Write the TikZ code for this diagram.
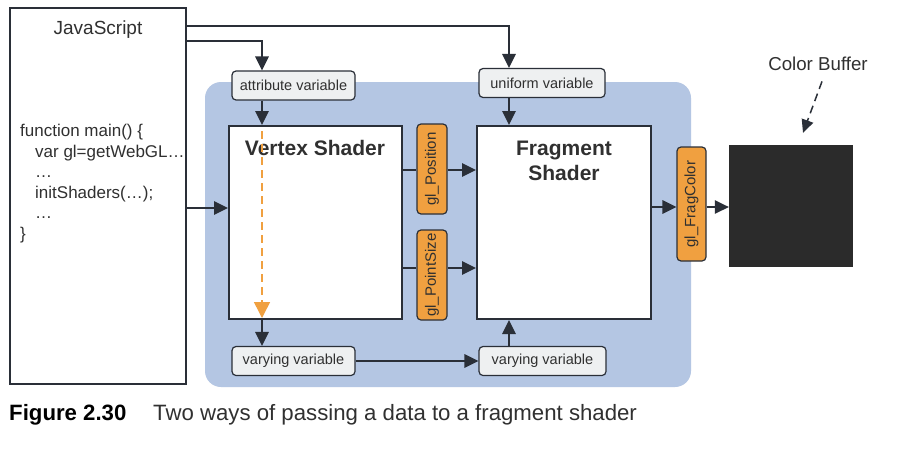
\documentclass[tikz,border=0pt]{standalone}
\usepackage{fontspec}
\setmainfont{Liberation Sans}
\usepackage{graphicx}
\usetikzlibrary{arrows.meta,calc}
\definecolor{inkc}{HTML}{2A2F38}
\definecolor{textc}{HTML}{303030}
\definecolor{panelblue}{HTML}{B4C6E3}
\definecolor{labelgray}{HTML}{EEF0F1}
\definecolor{glorange}{HTML}{F0A040}
\definecolor{bufblack}{HTML}{2B2B2B}
\tikzset{
  arr/.style={draw=inkc, line width=1.5pt, -{Triangle[length=14pt,width=13.5pt]}},
  varbox/.style={draw=inkc, line width=1.2pt, fill=labelgray, rounded corners=4pt,
    minimum height=29pt, inner sep=0pt, text=textc, font=\fontsize{14.5}{17}\selectfont},
  shaderbox/.style={draw=inkc, line width=2pt, fill=white, minimum width=173pt,
    minimum height=193pt, inner sep=0pt},
  outbox/.style={draw=inkc, line width=1.2pt, fill=glorange, rounded corners=4pt,
    minimum width=30pt, inner sep=0pt, text=textc, font=\fontsize{15}{18}\selectfont},
  title/.style={text=textc, font=\fontsize{21}{25}\selectfont\bfseries, align=center},
}

\begin{document}
\begin{tikzpicture}[x=1pt,y=-1pt]
  \useasboundingbox[fill=white] (0,0) rectangle (904,450);
  % GPU panel
  \fill[panelblue, rounded corners=16pt] (205,82) rectangle (691,387);
  % columns and rows of the connectors
  \coordinate (colV) at (262,0);
  \coordinate (colF) at (509,0);
  \coordinate (rowP) at (0,170);
  \coordinate (rowC) at (0,207);
  \coordinate (rowS) at (0,268);

  \node[draw=inkc, line width=2.5pt, minimum width=176pt, minimum height=376pt] (js) at (98,196) {};
  \node[text=textc, font=\fontsize{19}{22}\selectfont] (jsT) at (98,30) {JavaScript};
  \node[anchor=north west, align=left, inner sep=0pt, text=textc,
        font=\fontsize{17}{20.5}\selectfont] (code) at (20,124)
        {function main() \{\\ \hspace*{15pt}var gl=getWebGL\ldots\\ \hspace*{15pt}\ldots\\
         \hspace*{15pt}initShaders(\ldots);\\ \hspace*{15pt}\ldots\\ \}};
  \coordinate (jsU) at (186,26);
  \coordinate (jsA) at (186,41);
  \coordinate (jsC) at (186,208);

  \node[varbox, minimum width=123pt] (attr) at (293.5,85.5) {attribute variable};
  \node[varbox, minimum width=126pt] (uni) at (542,83) {uniform variable};
  \node[varbox, minimum width=123pt] (vary1) at (293.5,361) {varying variable};
  \node[varbox, minimum width=127pt] (vary2) at (542.5,361) {varying variable};

  \node[shaderbox] (vert) at (315.5,222.5) {};
  \node[shaderbox, minimum width=174pt] (frag) at (564,222.5) {};
  \node[title] (vertT) at (315,148) {Vertex Shader};
  \node[title] (fragT) at (564,161) {Fragment\\Shader};

  \node[outbox, minimum height=90pt] (pos) at (432,169) {\rotatebox{90}{gl\_Position}};
  \node[outbox, minimum height=90pt] (psize) at (432,275) {\rotatebox{90}{gl\_PointSize}};
  \node[outbox, minimum height=114pt, minimum width=29pt] (fragc) at (691.5,204) {\rotatebox{90}{gl\_FragColor}};

  \node[fill=bufblack, minimum width=124pt, minimum height=122pt] (buf) at (791,206) {};
  \node[text=textc, font=\fontsize{18.7}{22}\selectfont] (bufT) at (818,64) {Color Buffer};

  % from JavaScript
  \draw[arr] (jsU) -| (uni.north -| colF);
  \draw[arr] (jsA) -| (attr.north -| colV);
  \draw[arr] (jsC) -- (vert.west |- jsC);
  \draw[arr] (attr.south -| colV) -- (vert.north -| colV);
  \draw[arr] (uni.south -| colF) -- (frag.north -| colF);
  % varying variables
  \draw[draw=glorange, line width=1.5pt, dash pattern=on 8pt off 5pt,
        -{Triangle[length=16pt,width=16pt,fill=glorange,color=glorange]}]
        ($(vert.north -| colV)+(0,6)$) -- ($(vert.south -| colV)+(0,-2)$);
  \draw[arr] (vert.south -| colV) -- (vary1.north -| colV);
  \draw[arr] (vary1.east) -- (vary2.west);
  \draw[arr] (vary2.north -| colF) -- (frag.south -| colF);
  % built-in variables
  \draw[draw=inkc, line width=1.5pt] (vert.east |- rowP) -- (pos.west |- rowP);
  \draw[arr] (pos.east |- rowP) -- (frag.west |- rowP);
  \draw[draw=inkc, line width=1.5pt] (vert.east |- rowS) -- (psize.west |- rowS);
  \draw[arr] (psize.east |- rowS) -- (frag.west |- rowS);
  \draw[arr] (frag.east |- rowC) -- (fragc.west |- rowC);
  \draw[arr] (fragc.east |- rowC) -- (buf.west |- rowC);
  \draw[draw=inkc, line width=1.5pt, dash pattern=on 8pt off 5pt,
        -{Triangle[length=13pt,width=12pt]}]
        ($(bufT.south)+(4,7)$) -- ($(buf.north)+(12,-12)$);

  % caption
  \node[anchor=west, inner sep=0pt, font=\fontsize{22.2}{26}\selectfont\bfseries] (capN) at (9,415) {Figure 2.30};
  \node[anchor=west, inner sep=0pt, text=textc, font=\fontsize{22.2}{26}\selectfont] (capT) at (153,415)
        {Two ways of passing a data to a fragment shader};
\end{tikzpicture}
\end{document}
